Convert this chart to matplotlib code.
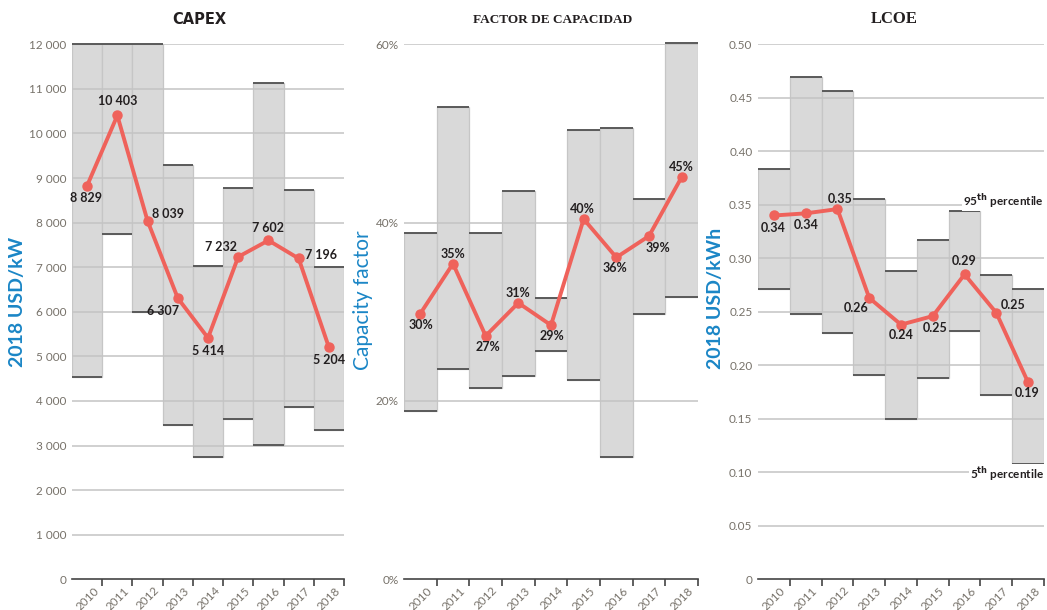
import matplotlib
matplotlib.use('Agg')
import matplotlib.pyplot as plt
import matplotlib.transforms as mtransforms

years = ['2010', '2011', '2012', '2013', '2014', '2015', '2016', '2017', '2018']

capex_p95 = [12000, 12000, 12000, 9300, 7030, 8780, 11130, 8740, 7000]
capex_p5 = [4540, 7750, 6000, 3470, 2745, 3600, 3015, 3870, 3360]
capex_avg = [8829, 10403, 8039, 6307, 5414, 7232, 7602, 7196, 5204]
capex_labels = ['8 829', '10 403', '8 039', '6 307', '5 414', '7 232', '7 602', '7 196', '5 204']

cf_p95 = [38.8, 53.0, 38.8, 43.5, 31.5, 50.4, 50.6, 42.6, 60.1]
cf_p5 = [18.9, 23.6, 21.4, 22.8, 25.6, 22.3, 13.7, 29.7, 31.7]
cf_avg = [29.8, 35.4, 27.3, 31.0, 28.5, 40.4, 36.1, 38.5, 45.1]
cf_labels = ['30%', '35%', '27%', '31%', '29%', '40%', '36%', '39%', '45%']

lcoe_p95 = [0.383, 0.469, 0.456, 0.355, 0.288, 0.317, 0.344, 0.284, 0.271]
lcoe_p5 = [0.271, 0.248, 0.230, 0.191, 0.150, 0.188, 0.232, 0.172, 0.108]
lcoe_avg = [0.340, 0.342, 0.346, 0.263, 0.238, 0.246, 0.285, 0.249, 0.184]
lcoe_labels = ['0.34', '0.34', '0.35', '0.26', '0.24', '0.25', '0.29', '0.25', '0.19']

capex_ticks = [0, 1000, 2000, 3000, 4000, 5000, 6000, 7000, 8000, 9000, 10000, 11000, 12000]
capex_ticklabels = ['0', '1 000', '2 000', '3 000', '4 000', '5 000', '6 000', '7 000',
                    '8 000', '9 000', '10 000', '11 000', '12 000']
cf_ticks = [0, 20, 40, 60]
cf_ticklabels = ['0%', '20%', '40%', '60%']
lcoe_ticks = [0, 0.05, 0.10, 0.15, 0.20, 0.25, 0.30, 0.35, 0.40, 0.45, 0.50]
lcoe_ticklabels = ['0', '0.05', '0.10', '0.15', '0.20', '0.25', '0.30', '0.35', '0.40', '0.45', '0.50']

# label offsets in pixels (style)
capex_off = [(-1, -12), (0, 14), (20, 7), (-15, -13), (0, -13), (-17, 10), (0, 12), (22, 3), (0, -13)]
cf_off = [(1, -11), (0, 10), (2, -11), (0, 10), (1, -11), (-1, 10), (-1, -11), (9, -12), (0, 10)]
lcoe_off = [(-1, -13), (1, -12), (3, 10), (-13, -10), (0, -10), (2, -12), (0, 13), (17, 8), (-1, -11)]

plt.rcParams['font.family'] = ['Lato', 'DejaVu Sans']

FILL = '#d9d9d9'
EDGE = '#c6c6c6'
PCT = '#5a5a5a'
GRID = '#c4c4c4'
LINE = '#ef625b'
TICKC = '#77726a'
BLUE = '#1b86c6'
DARK = '#231f20'

fig = plt.figure(figsize=(10.47, 6.10), dpi=100)
H = 610.0
W = 1047.0
top_px, bot_px = 44.3, 579.3


def make_ax(l, r):
    return fig.add_axes([l / W, 1 - bot_px / H, (r - l) / W, (bot_px - top_px) / H])


def panel(ax, p95, p5, avg, labels, offs, ticks, ticklabels, ylim):
    x = list(range(len(years)))
    heights = [a - b for a, b in zip(p95, p5)]
    ax.bar(x, heights, bottom=p5, width=1.0, color=FILL, edgecolor=EDGE, linewidth=0.9, zorder=1)
    ax.hlines(p95, [i - 0.5 for i in x], [i + 0.5 for i in x], color=PCT, lw=1.4, zorder=2, clip_on=False)
    ax.hlines(p5, [i - 0.5 for i in x], [i + 0.5 for i in x], color=PCT, lw=1.4, zorder=2, clip_on=False)
    for t in ticks[1:]:
        ax.axhline(t, color=GRID, lw=1.1, zorder=1.5)
    ax.plot(x, avg, color=LINE, lw=2.8, marker='o', ms=6.5, zorder=4, clip_on=False)
    for xi, v, s, (dx, dy) in zip(x, avg, labels, offs):
        ax.annotate(s, (xi, v), xytext=(dx, dy), textcoords='offset pixels', ha='center', va='center',
                    fontsize=9, fontweight='bold', color=DARK, zorder=5)
    ax.set_xlim(-0.5, len(years) - 0.5)
    ax.set_ylim(*ylim)
    ax.set_yticks(ticks)
    ax.set_yticklabels(ticklabels)
    ax.tick_params(axis='y', length=0, pad=4, labelsize=8.5, labelcolor=TICKC)
    ax.set_xticks(x)
    ax.set_xticklabels(years, rotation=45, ha='right', va='top', rotation_mode='anchor')
    ax.set_xticks([i + 0.5 for i in x], minor=True)
    ax.tick_params(axis='x', which='major', length=0, pad=4, labelsize=8.5, labelcolor=TICKC)
    ax.tick_params(axis='x', which='minor', length=5, width=1.2, color='#444444', direction='out')
    off = mtransforms.ScaledTranslation(6 / 100, 0, fig.dpi_scale_trans)
    for lbl in ax.get_xticklabels():
        lbl.set_transform(lbl.get_transform() + off)
    for s in ['left', 'right', 'top']:
        ax.spines[s].set_visible(False)
    ax.spines['bottom'].set_color('#444444')
    ax.spines['bottom'].set_linewidth(1.2)
    ax.spines['bottom'].set_zorder(3)


ax1 = make_ax(72, 344)
panel(ax1, capex_p95, capex_p5, capex_avg, capex_labels, capex_off, capex_ticks, capex_ticklabels, (0, 12000))
ax2 = make_ax(404, 698)
panel(ax2, cf_p95, cf_p5, cf_avg, cf_labels, cf_off, cf_ticks, cf_ticklabels, (0, 60))
ax3 = make_ax(758, 1044)
panel(ax3, lcoe_p95, lcoe_p5, lcoe_avg, lcoe_labels, lcoe_off, lcoe_ticks, lcoe_ticklabels, (0, 0.5))

# titles
fig.text(199 / W, 1 - 19 / H, 'CAPEX', ha='center', va='center', fontsize=10.5, fontweight='bold',
         color=DARK, fontfamily='DejaVu Sans')
fig.text(553 / W, 1 - 20 / H, 'FACTOR DE CAPACIDAD', ha='center', va='center', fontsize=9.5,
         fontweight='bold', color=DARK, fontfamily='Liberation Serif')
fig.text(894 / W, 1 - 19 / H, 'LCOE', ha='center', va='center', fontsize=12, fontweight='bold',
         color=DARK, fontfamily='Liberation Serif')

# y labels
fig.text(18 / W, 1 - 302 / H, '2018 USD/kW', rotation=90, ha='center', va='center', fontsize=14,
         fontweight='bold', color=BLUE)
fig.text(363 / W, 1 - 300 / H, 'Capacity factor', rotation=90, ha='center', va='center', fontsize=15,
         fontweight='normal', color=BLUE)
fig.text(716 / W, 1 - 298 / H, '2018 USD/kWh', rotation=90, ha='center', va='center', fontsize=14,
         fontweight='bold', color=BLUE)

# percentile notes
bbox = dict(facecolor='white', edgecolor='none', pad=1.0)
ax3.text(8.5, 0.3538, r'95$^{\mathbf{th}}$ percentile', ha='right', va='center', fontsize=8.5,
         fontweight='bold', color=DARK, bbox=bbox, zorder=3)
ax3.text(8.5, 0.0985, r'5$^{\mathbf{th}}$ percentile', ha='right', va='center', fontsize=8.5,
         fontweight='bold', color=DARK, bbox=bbox, zorder=3)

fig.savefig('out.png', dpi=100)
